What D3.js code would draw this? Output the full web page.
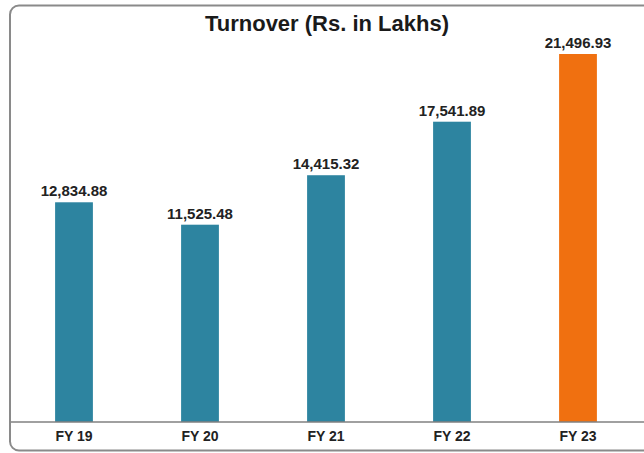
<!DOCTYPE html>
<html><head><meta charset="utf-8">
<script src="https://cdn.jsdelivr.net/npm/d3@7"></script>
<style>body{margin:0;background:#fff}svg{display:block}</style>
</head><body>
<script>
const categories = ["FY 19","FY 20","FY 21","FY 22","FY 23"];
const values = [12834.88, 11525.48, 14415.32, 17541.89, 21496.93];
const labels = ["12,834.88","11,525.48","14,415.32","17,541.89","21,496.93"];
const colors = ["#2d84a0","#2d84a0","#2d84a0","#2d84a0","#f07010"];
const title = "Turnover (Rs. in Lakhs)";

const W = 644, H = 453;
const svg = d3.select("body").append("svg").attr("width", W).attr("height", H);
svg.append("rect").attr("x",10).attr("y",5.5).attr("width",670).attr("height",445)
  .attr("rx",9).attr("fill","#fff").attr("stroke","#8a8a8a").attr("stroke-width",2);

const x = d3.scaleBand().domain(categories).range([11, 641]).paddingInner(0.7).paddingOuter(0.35);
const y = d3.scaleLinear().domain([0, 21496.93]).range([422, 54]);

svg.selectAll("rect.bar").data(values).enter().append("rect").attr("class","bar")
  .attr("x",(d,i)=>x(categories[i])).attr("width",x.bandwidth())
  .attr("y",d=>y(d)).attr("height",d=>y(0)-y(d)).attr("fill",(d,i)=>colors[i]);

svg.selectAll("text.val").data(values).enter().append("text").attr("class","val")
  .attr("x",(d,i)=>x(categories[i])+x.bandwidth()/2).attr("y",d=>y(d)-6)
  .attr("text-anchor","middle").attr("font-family","Liberation Sans, Arial, sans-serif")
  .attr("font-weight","bold").attr("font-size",15).attr("fill","#222")
  .text((d,i)=>labels[i]);

const ax = svg.append("g").attr("transform","translate(0,422)")
  .call(d3.axisBottom(x).tickSize(0).tickPadding(9));
ax.select(".domain").attr("d","M11,0H644").attr("stroke","#808080").attr("stroke-width",1.5);
ax.selectAll("text").attr("font-family","Liberation Sans, Arial, sans-serif")
  .attr("font-weight","bold").attr("font-size",14).attr("fill","#222");

svg.append("text").attr("x",327).attr("y",31).attr("text-anchor","middle")
  .attr("font-family","Liberation Sans, Arial, sans-serif").attr("font-weight","bold")
  .attr("font-size",22).attr("fill","#1a1a1a").text(title);
</script>
</body></html>
